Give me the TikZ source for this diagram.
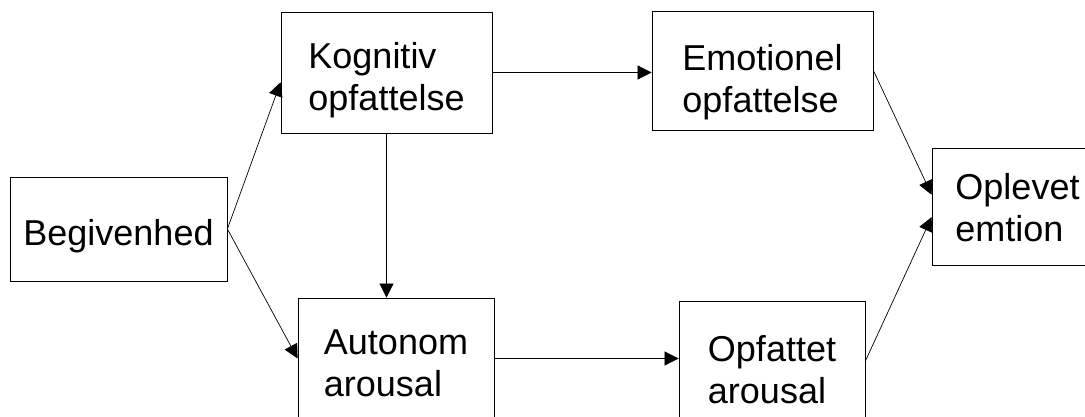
\documentclass[tikz,border=0pt]{standalone}
\usepackage{fontspec}
\setmainfont{Liberation Sans}
\usetikzlibrary{arrows.meta,calc}
\newcommand{\lift}[1]{\rule{0pt}{#1pt}}
\begin{document}
\begin{tikzpicture}[x=1pt,y=-1pt,
  box/.style={draw=black,line width=0.8pt,inner sep=0pt,align=left,
    font=\fontsize{36}{42}\selectfont},
  conn/.style={line width=0.7pt,-{Triangle[length=14pt,width=14pt]}}]
\useasboundingbox (0,0) rectangle (1085,417);
\clip (0,0) rectangle (1085,417);
\node[box,minimum width=217pt,minimum height=104pt] (beg) at (118.5,229) {\lift{39.6}Begivenhed};
\node[box,minimum width=211pt,minimum height=121pt] (kog) at (386.5,72.5) {\lift{40.6}Kognitiv\\opfattelse};
\node[box,minimum width=221pt,minimum height=119pt] (emo) at (762.5,70.5) {\lift{48.6}Emotionel\\opfattelse};
\node[box,minimum width=171pt,minimum height=117pt] (opl) at (1017.5,206.5) {\lift{29}Oplevet\\emtion};
\node[box,minimum width=196pt,minimum height=121pt] (aut) at (396,358.5) {\lift{35}Autonom\\arousal};
\node[box,minimum width=186pt,minimum height=120pt] (opf) at (772,361) {\lift{44}Opfattet\\arousal};
\draw[conn] (beg.east) -- ($(kog.north west)!0.58!(kog.south west)$);
\draw[conn] (beg.east) -- (aut.west);
\draw[conn] (kog.east) -- (kog.east -| emo.west);
\draw[conn] (kog.south) -- (kog.south |- aut.north);
\draw[conn] (aut.east) -- (aut.east -| opf.west);
\draw[conn] (emo.east) -- ($(opl.north west)!0.40!(opl.south west)$);
\draw[conn] (opf.east) -- ($(opl.north west)!0.59!(opl.south west)$);
\end{tikzpicture}
\end{document}
